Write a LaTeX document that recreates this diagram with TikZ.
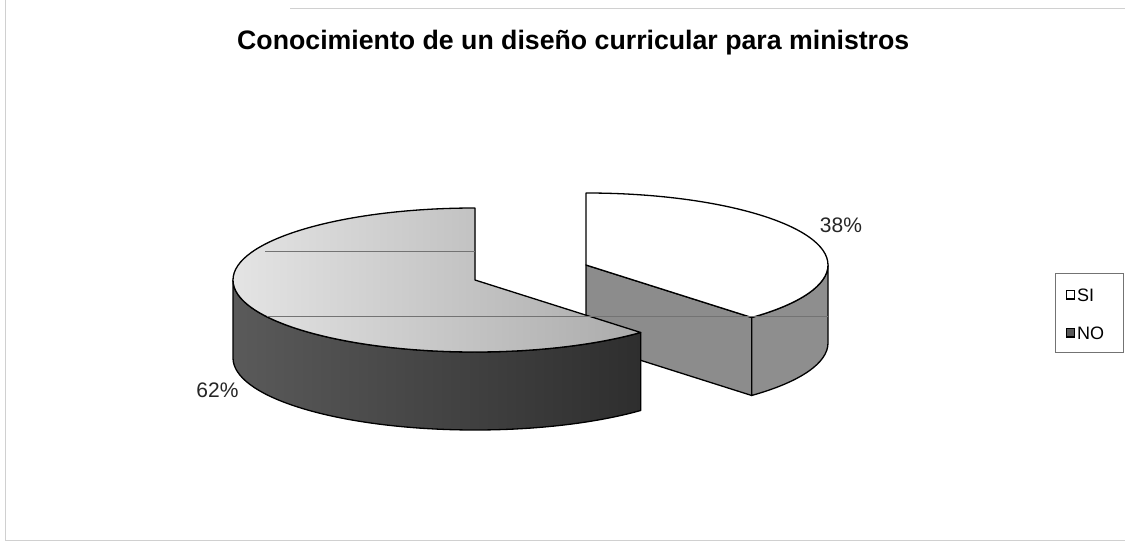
\documentclass[tikz,border=0pt]{standalone}
\usepackage{fontspec}
\setmainfont{Liberation Sans}
\usetikzlibrary{calc}
\definecolor{notopL}{HTML}{E4E4E4}
\definecolor{notopR}{HTML}{ABABAB}
\definecolor{nosideL}{HTML}{5A5A5A}
\definecolor{nosideR}{HTML}{2E2E2E}
\definecolor{sicut}{HTML}{8C8C8C}
\definecolor{siside}{HTML}{8E8E8E}
\definecolor{framec}{HTML}{D0D0D0}
\begin{document}
\begin{tikzpicture}[x=1pt,y=1pt,
  edge/.style={draw=black, line width=1.3pt, line join=round},
  grid/.style={draw=black!55, line width=0.6pt},
  framel/.style={draw=framec, line width=0.8pt},
  pct/.style={font=\fontsize{21}{24}\selectfont, text=black!85, inner sep=0pt},
  legtxt/.style={font=\fontsize{18}{20}\selectfont, anchor=west, inner sep=0pt},
  legbox/.style={draw=black, line width=1.1pt}
]
\useasboundingbox (0,0) rectangle (1125,-543);
\fill[white] (0,0) rectangle (1125,-543);
% faint chart-area frame
\draw[framel] (5,0) -- (5,-540) -- (1125,-540);
\draw[framel] (290,-8) -- (1125,-8);

% title
\node[anchor=base west, inner sep=0pt, font=\bfseries\fontsize{26.7}{30}\selectfont] (title) at (237,-49.3)
  {Conocimiento de un diseño curricular para ministros};

\coordinate (c1) at (475,-280);
\coordinate (c2) at (586,-265);

% SI slice (exploded right)
\filldraw[edge, fill=sicut] (c2) -- ($(c2)+(313.2:242 and 72)$) -- ++(0,-78) -- ($(c2)+(0,-78)$) -- cycle;
\filldraw[edge, fill=siside] ($(c2)+(313.2:242 and 72)$)
  arc[start angle=313.2, end angle=360, x radius=242, y radius=72] -- ++(0,-78)
  arc[start angle=360, end angle=313.2, x radius=242, y radius=72] -- cycle;
\filldraw[edge, fill=white] (c2) -- ($(c2)+(90:242 and 72)$)
  arc[start angle=90, end angle=-46.8, x radius=242, y radius=72] -- cycle;

% NO slice (exploded left)
\filldraw[edge, left color=nosideL, right color=nosideR] ($(c1)+(180:242 and 72)$)
  arc[start angle=180, end angle=313.2, x radius=242, y radius=72] -- ++(0,-78)
  arc[start angle=313.2, end angle=180, x radius=242, y radius=72] -- cycle;
\filldraw[edge, left color=notopL, right color=notopR] (c1) -- ($(c1)+(90:242 and 72)$)
  arc[start angle=90, end angle=313.2, x radius=242, y radius=72] -- cycle;

% scan gridline artefacts
\draw[grid] (265,-251) -- (475,-251);
\draw[grid] (267,-316) -- (828,-316);

% percentage labels
\node[pct] (lsi) at (841,-225.5) {38\%};
\node[pct] (lno) at (217.5,-390) {62\%};

% legend
\draw[draw=black!55, line width=0.8pt] (1055,-273) rectangle (1123,-352);
\filldraw[legbox, fill=white] (1066.5,-290.5) rectangle (1074.5,-299);
\node[legtxt] (legsi) at (1077,-295) {SI};
\filldraw[legbox, fill=black!65] (1066.5,-328.5) rectangle (1074.5,-337);
\node[legtxt] (legno) at (1077,-333) {NO};
\end{tikzpicture}
\end{document}
